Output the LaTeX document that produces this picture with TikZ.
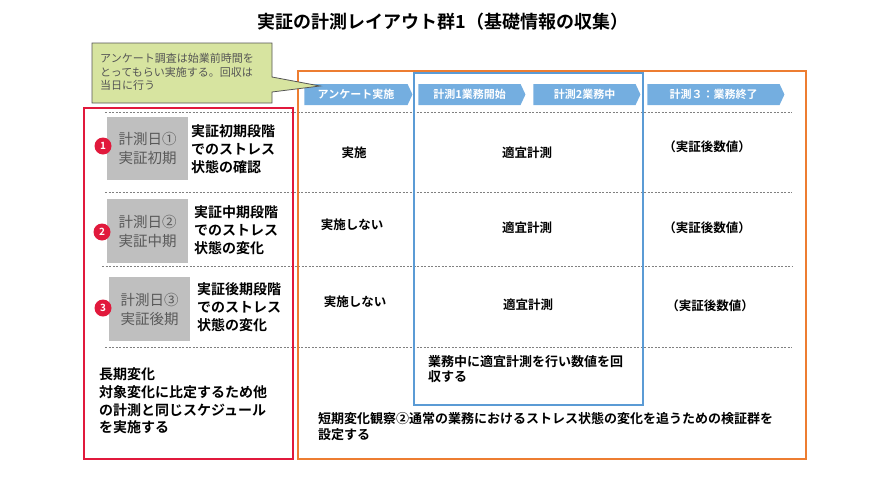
\documentclass[tikz,border=0pt]{standalone}
\usepackage{fontspec}
\setmainfont{Noto Sans CJK JP}[BoldFont={Noto Sans CJK JP Bold}]
\usetikzlibrary{shapes.symbols}
\definecolor{redc}{RGB}{225,25,60}
\definecolor{orangec}{RGB}{237,125,49}
\definecolor{bluec}{RGB}{91,155,213}
\definecolor{chevblue}{RGB}{116,174,224}
\definecolor{notegreen}{RGB}{215,228,160}
\definecolor{notegray}{RGB}{85,85,85}
\definecolor{boxgray}{RGB}{191,191,191}
\definecolor{boxtext}{RGB}{89,89,89}
\tikzset{
  frame/.style={draw, line width=2pt, fill=none, inner sep=0pt},
  sep/.style={draw=gray, line width=0.7pt, dash pattern=on 2pt off 1.5pt},
  chev/.style={signal, signal to=east, signal pointer angle=130, fill=chevblue, text=white,
    font=\bfseries\fontsize{11}{13}\selectfont, minimum height=21pt, inner sep=0pt},
  graybox/.style={fill=boxgray, text=boxtext, align=center, minimum width=81pt,
    minimum height=63pt, font=\fontsize{14.5}{19}\selectfont, inner sep=0pt},
  numdot/.style={circle, fill=redc, text=white, minimum size=17pt, inner sep=0pt,
    font=\bfseries\fontsize{10}{10}\selectfont},
  sidetext/.style={anchor=west, align=left, font=\bfseries\fontsize{14}{18}\selectfont, inner sep=0pt},
  celltext/.style={font=\bfseries\fontsize{12.5}{15}\selectfont, inner sep=0pt},
  bodytext/.style={anchor=west, align=left, font=\bfseries\fontsize{13}{16}\selectfont, inner sep=0pt},
  noteshape/.style={fill=notegreen, draw=notegray, line width=0.8pt, line join=miter}
}
\begin{document}
\begin{tikzpicture}[x=1pt,y=-1pt]
\useasboundingbox (0,0) rectangle (886,498);

% title
\node[font=\bfseries\fontsize{18}{20}\selectfont, inner sep=0pt] (title) at (443,22) {実証の計測レイアウト群1（基礎情報の収集）};

% dashed separators
\coordinate (s1a) at (105,112); \coordinate (s1b) at (792,112);
\coordinate (s2a) at (105,192); \coordinate (s2b) at (792,192);
\coordinate (s3a) at (102,266); \coordinate (s3b) at (792,266);
\coordinate (s4a) at (105,347); \coordinate (s4b) at (792,347);
\draw[sep] (s1a) -- (s1b);
\draw[sep] (s2a) -- (s2b);
\draw[sep] (s3a) -- (s3b);
\draw[sep] (s4a) -- (s4b);

% frames
\node[frame, draw=redc, minimum width=209pt, minimum height=351pt, anchor=north west] (leftframe) at (83,107) {};
\node[frame, draw=orangec, minimum width=508pt, minimum height=388pt, anchor=north west] (rightframe) at (297,70) {};
\node[frame, draw=bluec, minimum width=229pt, minimum height=332pt, anchor=north west] (blueframe) at (413,72) {};

% chevrons
\node[chev, minimum width=108pt] (c1) at (356,94.5) {アンケート実施};
\node[chev, minimum width=107pt] (c2) at (469.5,94.5) {計測1業務開始};
\node[chev, minimum width=107pt] (c3) at (584.5,94.5) {計測2業務中};
\node[chev, minimum width=137pt] (c4) at (713.5,94.5) {計測３：業務終了};

% callout (on top)
\draw[noteshape] (92,43) -- (272,43) -- (272,77) -- (320,86) -- (272,92) -- (272,103) -- (92,103) -- cycle;
\node[anchor=west, align=left, text=notegray, inner sep=0pt,
  font=\fontsize{11}{13.5}\selectfont] (note) at (100,72)
  {アンケート調査は始業前時間を\\とってもらい実施する。回収は\\当日に行う};

% gray boxes
\node[graybox] (g1) at (147.5,148) {計測日①\\実証初期};
\node[graybox, minimum height=64pt] (g2) at (147.5,231) {計測日②\\実証中期};
\node[graybox, minimum height=64pt] (g3) at (149.5,309) {計測日③\\実証後期};

\node[numdot] (n1) at (103,146) {1};
\node[numdot] (n2) at (102,232) {2};
\node[numdot] (n3) at (103,308) {3};

\node[sidetext] (t1) at (191,149) {実証初期段階\\でのストレス\\状態の確認};
\node[sidetext] (t2) at (194,230) {実証中期段階\\でのストレス\\状態の変化};
\node[sidetext] (t3) at (197,307) {実証後期段階\\でのストレス\\状態の変化};

\node[sidetext, font=\bfseries\fontsize{14}{17.7}\selectfont] (longterm) at (99,401)
  {長期変化\\対象変化に比定するため他\\の計測と同じスケジュール\\を実施する};

% cells
\node[celltext] (r1a) at (354,153) {実施};
\node[celltext] (r1b) at (527,153) {適宜計測};
\node[celltext] (r1c) at (707,147) {（実証後数値）};
\node[celltext] (r2a) at (352,225) {実施しない};
\node[celltext] (r2b) at (527,228) {適宜計測};
\node[celltext] (r2c) at (707,228) {（実証後数値）};
\node[celltext] (r3a) at (355,302) {実施しない};
\node[celltext] (r3b) at (528,305) {適宜計測};
\node[celltext] (r3c) at (710,306) {（実証後数値）};

\node[bodytext, font=\bfseries\fontsize{13}{15}\selectfont] (during) at (428,369)
  {業務中に適宜計測を行い数値を回\\収する};
\node[bodytext] (shortterm) at (318,427)
  {短期変化観察②通常の業務におけるストレス状態の変化を追うための検証群を\\設定する};
\end{tikzpicture}
\end{document}
